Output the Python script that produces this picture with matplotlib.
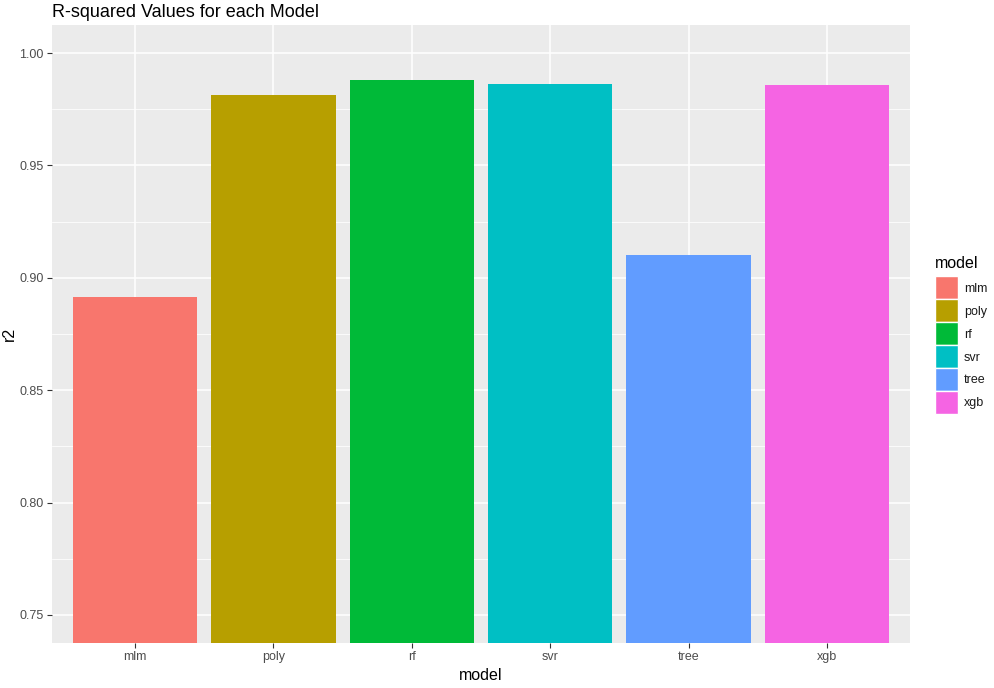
import numpy as np
import matplotlib
matplotlib.use('Agg')
import matplotlib.pyplot as plt
from matplotlib.patches import Patch

models = ['mlm', 'poly', 'rf', 'svr', 'tree', 'xgb']
r2 = [0.8915, 0.9813, 0.9880, 0.9862, 0.9101, 0.9858]
colours = ['#F8766D', '#B79F00', '#00BA38', '#00BFC4', '#619CFF', '#F564E3']
yticks = [0.75, 0.80, 0.85, 0.90, 0.95, 1.00]

plt.rcParams['font.family'] = ['Liberation Sans', 'DejaVu Sans']

fig = plt.figure(figsize=(9.94, 6.88), dpi=100)
W, H = 994., 688.
ax = fig.add_axes([52 / W, (H - 643) / H, (910 - 52) / W, (643 - 25) / H])
ax.set_facecolor('#EBEBEB')

x = np.arange(len(models))
ax.bar(x, r2, width=0.9, color=colours, zorder=3, bottom=0)

ax.set_xlim(-0.6, len(models) - 0.4)
ax.set_ylim(0.7375, 1.0125)

ax.set_yticks(yticks)
ax.set_yticklabels(['{:.2f}'.format(v) for v in yticks])
ax.set_yticks([0.775, 0.825, 0.875, 0.925, 0.975], minor=True)
ax.set_xticks(x)
ax.set_xticklabels(models)

ax.grid(which='major', color='white', linewidth=1.1, zorder=1)
ax.grid(which='minor', axis='y', color='white', linewidth=0.55, zorder=1)
for s in ax.spines.values():
    s.set_visible(False)
ax.tick_params(which='major', length=3.5, color='#333333', labelcolor='#4D4D4D',
               labelsize=9, width=0.8, pad=2.5)
ax.tick_params(which='minor', length=0)

ax.set_xlabel('model', fontsize=11.5, color='black', labelpad=3)
ax.set_ylabel('r2', fontsize=11.5, color='black')
ax.yaxis.set_label_coords(-35 / 858., 0.5)
ax.set_title('R-squared Values for each Model', loc='left', fontsize=13,
             color='black', pad=6, x=-0.0)

handles = [Patch(facecolor=c, edgecolor='white', linewidth=1.0) for c in colours]
leg = fig.legend(handles, models, title='model', loc='upper left',
                 bbox_to_anchor=(926 / W, 1 - 247 / H), frameon=False,
                 fontsize=9, title_fontsize=11.5, handlelength=1.85,
                 handleheight=2.45, handletextpad=0.5, labelspacing=0.0,
                 borderpad=0.2)
leg._legend_box.align = 'left'
leg._legend_box.sep = 4
for t in leg.get_texts():
    t.set_color('#1A1A1A')

fig.savefig('out.png', dpi=100)
